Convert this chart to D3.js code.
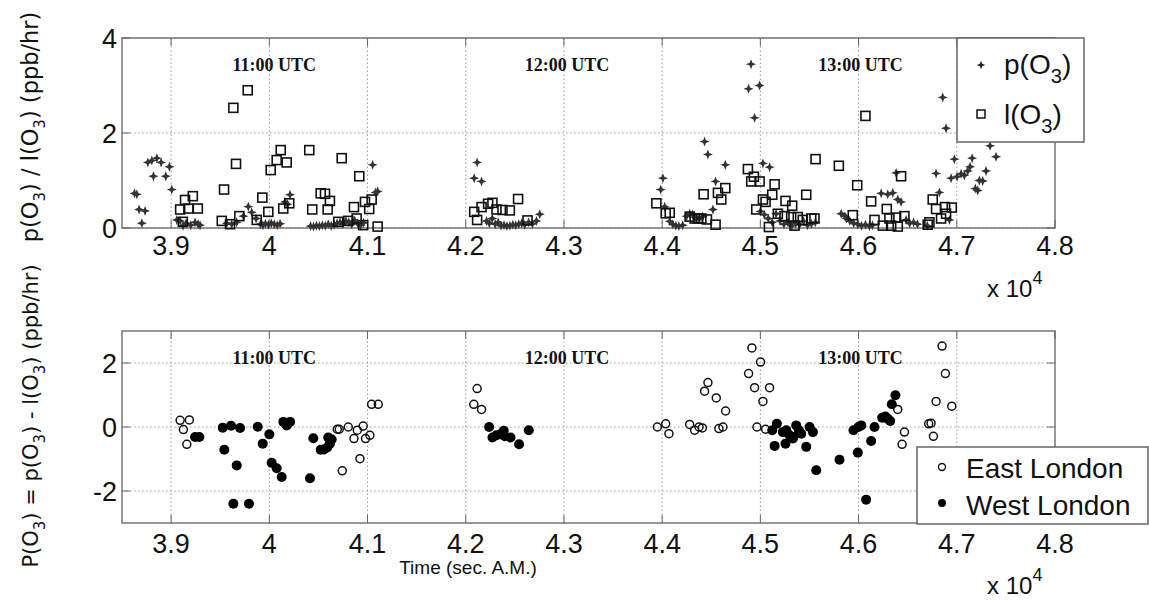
<!DOCTYPE html>
<html>
<head>
<script src="https://d3js.org/d3.v7.min.js"></script>
<style>
  body { margin: 0; background: #fff; }
  text { font-family: "Liberation Sans", Arial, sans-serif; fill: #111; }
  .utc { font-family: "Liberation Serif", "Times New Roman", serif; font-weight: bold; font-size: 18px; }
</style>
</head>
<body>
<svg id="chart" width="1149" height="601"></svg>
<script>
// time in seconds after midnight, rates in ppb/hr
var pTime = [38627,38651,38674,38702,38735,38763,38804,38820,38855,38898,38946,38983,39007,39058,39092,39122,39153,39200,39244,39275,39295,
  39567,39617,39668,39736,39786,39821,39865,39910,39935,39960,39990,40020,40050,40080,40110,40160,40185,40211,
  40420,40450,40480,40510,40540,40570,40600,40630,40660,40690,40720,40750,40780,40810,40840,40870,40900,40930,40960,41052,41082,41103,
  42086,42116,42161,42212,42240,42270,42300,42330,42360,42390,42420,42450,42480,42510,42540,42570,42600,42640,42680,42720,42754,
  43985,44008,44026,44077,44108,44140,44170,44209,44250,44280,44310,44340,44380,44413,44432,44466,44517,44544,44643,
  44880,44905,44941,44992,45026,45094,45000,45040,45080,45120,45160,45200,45240,45280,45320,45360,45400,45440,45480,45520,45560,
  45823,45860,45877,45910,45950,45990,46030,46070,46110,46141,46230,46297,46348,46382,46399,46433,46484,46520,46560,46600,46700,
  46789,46823,46857,46891,46925,46942,46976,47003,47044,47077,47111,47135,47156,47189,47213,47230,47264,47298,47339,47400];
var pVal = [0.73,0.71,0.39,0.10,0.36,1.38,1.42,1.09,1.47,1.38,1.09,1.29,0.81,0.17,0.15,0.05,0.10,0.06,0.12,0.08,0.06,
  0.10,0.08,0.12,0.25,0.45,0.33,0.20,0.08,0.06,0.09,0.07,0.10,0.08,0.06,0.09,0.55,0.50,0.70,
  0.04,0.03,0.05,0.04,0.06,0.05,0.08,0.05,0.07,0.10,0.12,0.09,0.15,0.12,0.08,0.16,0.10,0.06,0.11,1.33,0.75,0.77,
  1.05,1.38,0.98,0.15,0.10,0.20,0.08,0.12,0.05,0.06,0.04,0.05,0.07,0.06,0.08,0.10,0.07,0.12,0.09,0.15,0.29,
  0.81,1.05,0.45,0.14,0.08,0.05,0.04,0.06,0.25,0.30,0.28,0.22,0.20,0.24,1.82,1.55,0.39,0.98,1.33,
  2.93,3.45,2.32,3.00,1.36,1.28,0.35,0.28,0.20,0.12,0.30,0.15,0.08,0.12,0.05,0.10,0.07,0.14,0.06,0.09,0.12,
  0.30,0.25,0.20,0.15,0.10,0.08,0.05,0.07,0.04,0.06,0.73,0.71,0.74,1.16,0.60,0.55,0.17,0.10,0.12,0.08,0.05,
  1.15,0.75,2.75,2.10,0.17,1.05,1.45,1.08,1.14,1.11,1.20,1.29,1.47,0.83,0.79,1.00,0.99,1.20,1.73,1.50];

var lTime = [39092,39119,39142,39176,39221,39272,39539,39516,39600,39695,39634,39780,39661,39872,39929,39990,40014,40075,40116,40177,40142,40203,
  40407,40437,40523,40567,40617,40594,40737,40702,40804,40862,40889,40916,40956,40974,41017,41042,41103,
  42086,42116,42161,42228,42272,42313,42374,42449,42533,42629,
  43941,44036,44077,44280,44331,44365,44399,44456,44544,44422,44568,44602,44643,44873,44934,44907,44992,45145,45121,45026,45053,44958,45087,
  45178,45246,45314,45256,45324,45381,45432,45518,45551,45348,45467,45562,45799,45986,46070,46128,46162,45941,46247,46332,46399,
  46287,46314,46382,46467,46433,46704,46721,46755,46789,46840,46881,46949,46891];
var lVal = [0.39,0.13,0.59,0.41,0.67,0.41,0.81,0.15,0.08,0.25,2.53,2.90,1.35,0.17,0.64,0.34,1.22,1.43,1.64,1.38,0.41,0.52,
  1.64,0.39,0.73,0.72,0.57,0.39,1.47,0.13,0.15,0.44,0.20,1.09,0.06,0.55,0.40,0.60,0.03,
  0.34,0.17,0.44,0.51,0.53,0.39,0.38,0.37,0.61,0.16,
  0.52,0.31,0.32,0.24,0.20,0.20,0.20,0.18,0.07,0.71,0.74,0.60,0.84,1.24,1.08,0.98,0.98,0.92,0.70,0.60,0.55,0.39,0.02,
  0.30,0.25,0.23,0.57,0.47,0.23,0.17,0.20,0.20,0.05,0.70,1.45,1.31,0.90,2.36,0.56,0.17,0.27,0.05,0.05,0.03,
  0.40,0.20,0.22,0.25,1.09,0.07,0.12,0.60,0.40,0.20,0.44,0.43,0.30];

var eastTime = [39092,39186,39125,39160,40692,40712,40804,40862,40896,40956,40980,41024,40923,40743,41042,41109,
  42082,42116,42161,43951,44036,44069,44280,44331,44375,44409,44432,44466,44551,44646,44578,44619,
  44914,45002,44880,44941,45094,45026,44965,45053,46399,46467,46443,46850,46884,46789,46949,46714,46738,46762];
var eastVal = [0.21,0.22,-0.08,-0.54,-0.07,-0.07,0.00,-0.36,-0.10,0.03,-0.36,-0.26,-0.99,-1.37,0.71,0.71,
  0.71,1.20,0.55,0.00,0.10,-0.21,0.08,-0.10,0.00,-0.03,1.12,1.39,0.91,0.50,-0.05,0.00,
  2.47,2.03,1.67,1.23,1.23,0.80,0.00,-0.07,0.55,-0.16,-0.54,2.53,1.67,0.80,0.65,0.10,0.12,-0.29];

var westTime = [39244,39288,39526,39610,39702,39542,39668,39634,39793,39882,39933,40000,40024,40075,40126,40143,40177,40211,
  40414,40448,40523,40556,40590,40617,40635,40600,
  42238,42272,42313,42354,42387,42398,42456,42543,42642,
  45121,45168,45145,45229,45264,45297,45331,45365,45392,45416,45256,45331,45501,45535,45467,45569,45806,45992,45948,45999,46027,
  46162,46128,46077,46240,46273,46297,46322,46338,46375];
var westVal = [-0.31,-0.31,-0.02,0.04,-0.03,-0.71,-1.20,-2.40,-2.40,0.01,-0.52,-0.23,-1.12,-1.29,-1.56,0.16,0.05,0.16,
  -1.60,-0.35,-0.71,-0.70,-0.64,-0.52,-0.39,-0.33,
  0.00,-0.33,-0.26,-0.23,-0.12,-0.29,-0.33,-0.54,-0.10,
  -0.10,0.10,-0.59,-0.16,-0.10,-0.26,-0.31,0.05,-0.10,-0.21,-0.52,-0.36,0.00,-0.16,-0.62,-1.35,-1.02,-0.80,-0.10,0.00,0.05,
  0.00,-0.44,-2.27,0.29,0.33,0.26,0.19,0.71,0.99];

var xTicks = [39000,40000,41000,42000,43000,44000,45000,46000,47000,48000];
var xTickLabels = ["3.9","4","4.1","4.2","4.3","4.4","4.5","4.6","4.7","4.8"];
var topYTicks = [0,2,4];
var botYTicks = [-2,0,2];
var topNotes = ["11:00 UTC","12:00 UTC","13:00 UTC"];
var noteTimes = [40050, 43030, 46020];

var svg = d3.select("#chart");
var left = 122, right = 1055;

var x = d3.scaleLinear().domain([38500, 48000]).range([left, right]);
var yTop = d3.scaleLinear().domain([0, 4]).range([228, 38]);
var yBot = d3.scaleLinear().domain([-3, 3]).range([523, 331]);

function drawPanel(y, yTicks, labelY, notesY, expY) {
  var g = svg.append("g");
  var y0 = y.range()[0], y1 = y.range()[1];
  // grid
  g.selectAll(".vg").data(xTicks.slice(0, -1)).enter().append("line")
    .attr("x1", d => x(d)).attr("x2", d => x(d)).attr("y1", y0).attr("y2", y1)
    .attr("stroke", "#999").attr("stroke-width", 1).attr("stroke-dasharray", "1.5,2.5");
  g.selectAll(".hg").data(yTicks).enter().append("line")
    .attr("x1", left).attr("x2", right).attr("y1", d => y(d)).attr("y2", d => y(d))
    .attr("stroke", "#999").attr("stroke-width", 1).attr("stroke-dasharray", "1.5,2.5");
  // box
  g.append("rect").attr("x", left).attr("y", y1).attr("width", right - left).attr("height", y0 - y1)
    .attr("fill", "none").attr("stroke", "#777").attr("stroke-width", 1.5);
  // ticks
  xTicks.forEach(function(t) {
    g.append("line").attr("x1", x(t)).attr("x2", x(t)).attr("y1", y0).attr("y2", y0 - 8).attr("stroke", "#666");
    g.append("line").attr("x1", x(t)).attr("x2", x(t)).attr("y1", y1).attr("y2", y1 + 8).attr("stroke", "#666");
  });
  yTicks.forEach(function(v) {
    g.append("line").attr("x1", left).attr("x2", left + 8).attr("y1", y(v)).attr("y2", y(v)).attr("stroke", "#666");
    g.append("line").attr("x1", right).attr("x2", right - 8).attr("y1", y(v)).attr("y2", y(v)).attr("stroke", "#666");
  });
  g.selectAll(".xl").data(xTicks).enter().append("text")
    .attr("x", d => x(d)).attr("y", labelY).attr("text-anchor", "middle")
    .style("font-size", "27px").text((d, i) => xTickLabels[i]);
  g.selectAll(".yl").data(yTicks).enter().append("text")
    .attr("x", left - 5).attr("y", d => y(d) + 10).attr("text-anchor", "end")
    .style("font-size", "27px").text(d => d < 0 ? "-" + Math.abs(d) : d);
  g.selectAll(".nt").data(topNotes).enter().append("text").attr("class", "utc")
    .attr("x", (d, i) => x(noteTimes[i])).attr("y", notesY).attr("text-anchor", "middle").text(d => d);
  var ex = g.append("text").attr("x", 987).attr("y", expY).style("font-size", "24px");
  ex.append("tspan").text("x 10");
  ex.append("tspan").attr("dy", -13).style("font-size", "18px").text("4");
  return g;
}

drawPanel(yTop, topYTicks, 255, 71, 297);
drawPanel(yBot, botYTicks, 553, 364, 594);

var star = "M0,-5L1.4,-1.4L5,0L1.4,1.4L0,5L-1.4,1.4L-5,0L-1.4,-1.4Z";

// top panel markers
svg.append("g").selectAll("path").data(pTime).enter().append("path")
  .attr("d", star).attr("fill", "#333")
  .attr("transform", (d, i) => "translate(" + x(d) + "," + yTop(pVal[i]) + ")");
svg.append("g").selectAll("rect").data(lTime).enter().append("rect")
  .attr("x", d => x(d) - 4.5).attr("y", (d, i) => yTop(lVal[i]) - 4.5)
  .attr("width", 9).attr("height", 9)
  .attr("fill", "none").attr("stroke", "#111").attr("stroke-width", 1.6);

// bottom panel markers
svg.append("g").selectAll("circle").data(eastTime).enter().append("circle")
  .attr("cx", d => x(d)).attr("cy", (d, i) => yBot(eastVal[i])).attr("r", 4)
  .attr("fill", "none").attr("stroke", "#111").attr("stroke-width", 1.5);
svg.append("g").selectAll("circle").data(westTime).enter().append("circle")
  .attr("cx", d => x(d)).attr("cy", (d, i) => yBot(westVal[i])).attr("r", 5)
  .attr("fill", "#000");

// top legend
var lg = svg.append("g");
lg.append("rect").attr("x", 957).attr("y", 38).attr("width", 127).attr("height", 104)
  .attr("fill", "#fff").attr("stroke", "#666").attr("stroke-width", 1.5);
lg.append("path").attr("d", star).attr("fill", "#222").attr("transform", "translate(981,65) scale(0.85)");
lg.append("rect").attr("x", 977).attr("y", 110).attr("width", 8).attr("height", 8)
  .attr("fill", "none").attr("stroke", "#111").attr("stroke-width", 1.5);
function oLabel(sel, pre, xx, yy, size) {
  var t = sel.append("text").attr("x", xx).attr("y", yy).style("font-size", size + "px");
  t.append("tspan").text(pre + "(O");
  t.append("tspan").attr("dy", size * 0.33).style("font-size", (size * 0.72) + "px").text("3");
  t.append("tspan").attr("dy", -size * 0.33).text(")");
  return t;
}
oLabel(lg, "p", 1004, 74, 28);
oLabel(lg, "l", 1004, 124, 28);

// bottom legend
var lb = svg.append("g");
lb.append("rect").attr("x", 917).attr("y", 447).attr("width", 231).attr("height", 77)
  .attr("fill", "#fff").attr("stroke", "#666").attr("stroke-width", 1.5);
lb.append("circle").attr("cx", 942).attr("cy", 467).attr("r", 3.5)
  .attr("fill", "none").attr("stroke", "#111").attr("stroke-width", 1.4);
lb.append("circle").attr("cx", 942).attr("cy", 503).attr("r", 4).attr("fill", "#000");
lb.append("text").attr("x", 966).attr("y", 478).style("font-size", "28px").text("East London");
lb.append("text").attr("x", 966).attr("y", 515).style("font-size", "28px").text("West London");

// x title
svg.append("text").attr("x", 468).attr("y", 574).attr("text-anchor", "middle")
  .style("font-size", "19px").text("Time (sec. A.M.)");

// y titles
function yTitle(parts, cy, size) {
  var t = svg.append("text").attr("transform", "translate(38," + cy + ") rotate(-90)")
    .attr("text-anchor", "middle").style("font-family", "'DejaVu Sans', sans-serif").style("font-size", size + "px");
  parts.forEach(function(p) {
    var s = t.append("tspan").text(p[0]);
    if (p[1]) s.attr("dy", p[1]);
    if (p[2]) s.style("font-size", p[2]);
  });
}
yTitle([["p(O"], ["3", 7, "15px"], [") / l(O", -7], ["3", 7, "15px"], [") (ppb/hr)", -7]], 127, 22.5);
yTitle([["P(O"], ["3", 7, "15px"], [") = p(O", -7], ["3", 7, "15px"], [") - l(O", -7], ["3", 7, "15px"], [") (ppb/hr)", -7]], 416, 21);
</script>
</body>
</html>
